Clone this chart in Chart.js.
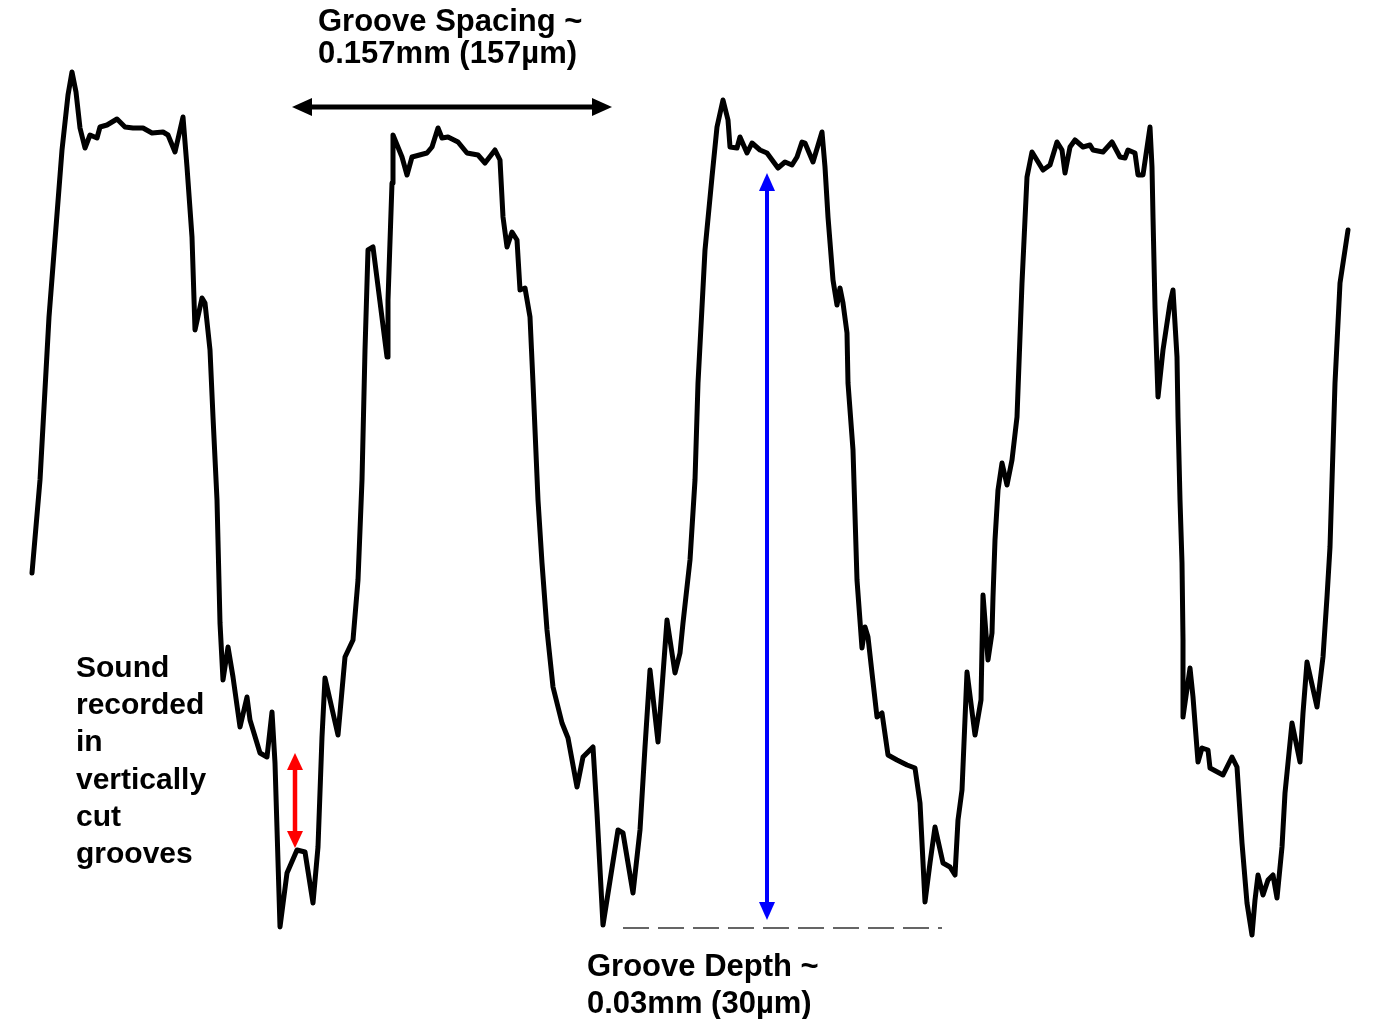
<!DOCTYPE html>
<html>
<head>
<meta charset="utf-8">
<title>Vertically cut record groove profile</title>
<script src="https://cdn.jsdelivr.net/npm/chart.js@4.4.1/dist/chart.umd.min.js"></script>
<style>
    html, body { margin: 0; padding: 0; background: #ffffff; }
    #wrap { position: relative; width: 1379px; height: 1019px; }
</style>
</head>
<body>
<div id="wrap"><canvas id="grooveChart"></canvas></div>
<script>
// Stylus trace across four grooves (position along the disc, depth from the top)
const traceX = [
    32, 40, 49, 62, 68, 72, 76, 80, 85, 90, 97, 100, 107, 112, 117, 125, 133, 143, 152, 163,
    168, 175, 183, 187, 192, 195, 202, 205, 210, 213, 217, 220, 223, 228, 233, 240, 247, 250, 260, 267,
    272, 275, 280, 287, 297, 305, 313, 318, 322, 325, 338, 345, 353, 358, 362, 365, 368, 373, 387, 388,
    392, 393, 402, 407, 412, 427, 432, 438, 442, 448, 458, 467, 478, 485, 495, 500, 503, 507, 512, 517,
    520, 525, 530, 533, 538, 542, 547, 553, 562, 568, 577, 583, 593, 597, 603, 618, 623, 633, 640, 645,
    650, 658, 667, 675, 680, 683, 690, 695, 698, 705, 712, 717, 723, 728, 730, 737, 740, 747, 752, 760,
    767, 778, 785, 792, 797, 802, 805, 813, 822, 825, 828, 833, 837, 840, 843, 847, 848, 853, 857, 862,
    865, 868, 872, 877, 882, 888, 897, 907, 915, 920, 925, 930, 935, 943, 950, 955, 958, 962, 967, 975,
    981, 983, 988, 992, 993, 995, 998, 1002, 1007, 1012, 1017, 1022, 1027, 1032, 1043, 1050, 1057, 1062, 1065, 1070,
    1075, 1083, 1090, 1093, 1103, 1112, 1120, 1125, 1128, 1135, 1138, 1143, 1150, 1152, 1153, 1155, 1158, 1163, 1170, 1173,
    1177, 1178, 1180, 1182, 1183, 1183, 1190, 1193, 1198, 1202, 1208, 1210, 1223, 1232, 1237, 1242, 1247, 1252, 1255, 1258,
    1263, 1268, 1273, 1277, 1282, 1285, 1292, 1300, 1303, 1307, 1317, 1323, 1327, 1330, 1335, 1340, 1345, 1348
];
const traceY = [
    573, 480, 317, 150, 95, 72, 92, 128, 148, 135, 138, 127, 125, 122, 119, 127, 128, 128, 133, 132,
    135, 152, 117, 167, 237, 330, 298, 303, 350, 417, 500, 623, 680, 647, 677, 727, 697, 720, 753, 757,
    712, 763, 927, 873, 850, 852, 903, 847, 737, 678, 735, 657, 640, 580, 480, 350, 250, 247, 357, 300,
    183, 135, 157, 175, 157, 153, 147, 128, 138, 137, 142, 153, 155, 163, 150, 160, 217, 247, 232, 240,
    290, 288, 317, 383, 500, 563, 630, 687, 723, 738, 787, 757, 747, 813, 925, 830, 833, 893, 830, 747,
    670, 742, 620, 673, 653, 623, 560, 480, 383, 250, 177, 127, 100, 120, 147, 148, 137, 153, 143, 150,
    153, 168, 162, 165, 157, 142, 143, 162, 132, 167, 217, 280, 305, 288, 303, 333, 383, 450, 580, 648,
    627, 637, 673, 717, 713, 755, 760, 765, 768, 803, 902, 863, 827, 863, 867, 875, 820, 790, 672, 735,
    700, 595, 660, 633, 597, 540, 490, 463, 485, 460, 417, 283, 177, 152, 170, 165, 142, 150, 173, 147,
    140, 147, 145, 150, 152, 142, 157, 158, 150, 153, 175, 175, 127, 167, 217, 307, 397, 350, 303, 290,
    357, 417, 500, 563, 640, 717, 668, 697, 762, 748, 750, 768, 775, 757, 767, 843, 903, 935, 900, 875,
    895, 880, 875, 898, 847, 793, 723, 762, 713, 662, 707, 657, 597, 547, 383, 283, 250, 230
];

// Annotation geometry in the same units as the trace
const spacingArrow = { x1: 292, x2: 612, y: 107 };
const depthArrow = { x: 767, y1: 173, y2: 920 };
const soundArrow = { x: 295, y1: 753, y2: 848 };
const baseLine = { x1: 623, x2: 942, y: 928 };

const spacingText = ['Groove Spacing ~', '0.157mm (157\u00b5m)'];
const depthText = ['Groove Depth ~', '0.03mm (30\u00b5m)'];
const soundText = ['Sound', 'recorded', 'in', 'vertically', 'cut', 'grooves'];

const points = traceX.map((x, i) => ({ x: x, y: traceY[i] }));

function arrowHead(ctx, tipX, tipY, dirX, dirY, len, half) {
    const bx = tipX - dirX * len, by = tipY - dirY * len;
    ctx.beginPath();
    ctx.moveTo(tipX, tipY);
    ctx.lineTo(bx - dirY * half, by + dirX * half);
    ctx.lineTo(bx + dirY * half, by - dirX * half);
    ctx.closePath();
    ctx.fill();
}

function doubleArrow(ctx, x1, y1, x2, y2, color, width, len, half) {
    const d = Math.hypot(x2 - x1, y2 - y1);
    const ux = (x2 - x1) / d, uy = (y2 - y1) / d;
    ctx.strokeStyle = color;
    ctx.fillStyle = color;
    ctx.lineWidth = width;
    ctx.beginPath();
    ctx.moveTo(x1 + ux * (len - 2), y1 + uy * (len - 2));
    ctx.lineTo(x2 - ux * (len - 2), y2 - uy * (len - 2));
    ctx.stroke();
    arrowHead(ctx, x1, y1, -ux, -uy, len, half);
    arrowHead(ctx, x2, y2, ux, uy, len, half);
}

function textBlock(ctx, lines, x, y0, step, size) {
    ctx.fillStyle = '#000000';
    ctx.font = 'bold ' + size + 'px "Liberation Sans", Arial, sans-serif';
    ctx.textAlign = 'left';
    ctx.textBaseline = 'alphabetic';
    lines.forEach((t, i) => ctx.fillText(t, x, y0 + i * step));
}

const annotations = {
    id: 'grooveAnnotations',
    afterDatasetsDraw(chart) {
        const ctx = chart.ctx;
        const sx = chart.scales.x, sy = chart.scales.y;
        ctx.save();

        // dashed reference line at the groove bottom
        ctx.strokeStyle = '#333333';
        ctx.lineWidth = 1.5;
        ctx.setLineDash([26, 9]);
        ctx.beginPath();
        ctx.moveTo(sx.getPixelForValue(baseLine.x1), sy.getPixelForValue(baseLine.y));
        ctx.lineTo(sx.getPixelForValue(baseLine.x2), sy.getPixelForValue(baseLine.y));
        ctx.stroke();
        ctx.setLineDash([]);

        doubleArrow(ctx,
            sx.getPixelForValue(spacingArrow.x1), sy.getPixelForValue(spacingArrow.y),
            sx.getPixelForValue(spacingArrow.x2), sy.getPixelForValue(spacingArrow.y),
            '#000000', 5, 20, 9);
        doubleArrow(ctx,
            sx.getPixelForValue(depthArrow.x), sy.getPixelForValue(depthArrow.y1),
            sx.getPixelForValue(depthArrow.x), sy.getPixelForValue(depthArrow.y2),
            '#0000ff', 4, 18, 8);
        doubleArrow(ctx,
            sx.getPixelForValue(soundArrow.x), sy.getPixelForValue(soundArrow.y1),
            sx.getPixelForValue(soundArrow.x), sy.getPixelForValue(soundArrow.y2),
            '#ff0000', 4.5, 17, 8);

        textBlock(ctx, spacingText, 318, 31, 32, 31);
        textBlock(ctx, depthText, 587, 976, 37, 31);
        textBlock(ctx, soundText, 76, 677, 37.2, 30);

        ctx.restore();
    }
};

const ctx = document.getElementById('grooveChart').getContext('2d');
new Chart(ctx, {
    type: 'line',
    data: {
        datasets: [{
            label: 'Groove profile',
            data: points,
            borderColor: '#000000',
            borderWidth: 5,
            borderJoinStyle: 'round',
            borderCapStyle: 'round',
            pointRadius: 0,
            tension: 0,
            fill: false
        }]
    },
    options: {
        responsive: true,
        maintainAspectRatio: false,
        animation: false,
        layout: { padding: 0 },
        scales: {
            x: { type: 'linear', display: false, min: 0, max: 1379 },
            y: { type: 'linear', display: false, min: 0, max: 1019, reverse: true }
        },
        plugins: {
            legend: { display: false },
            tooltip: { enabled: false }
        }
    },
    plugins: [annotations]
});
</script>
</body>
</html>
